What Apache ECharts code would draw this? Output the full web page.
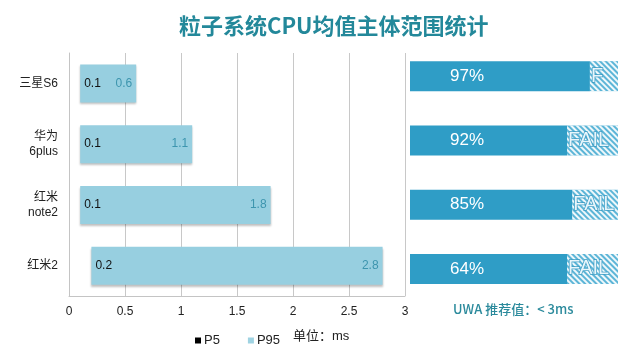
<!DOCTYPE html>
<html lang="zh-cn">
<head>
  <meta charset="utf-8">
  <title>粒子系统CPU均值主体范围统计</title>
  <script src="https://cdn.jsdelivr.net/npm/echarts@6/dist/echarts.min.js"></script>
  <style type="text/css">
    html, body { margin: 0; padding: 0; background: #fff; }
    #main { width: 640px; height: 354px; }
  </style>
</head>
<body>
<div id="main"></div>
<script type="text/javascript">
// 数据
var phones = ['三星S6', '华为\n6plus', '红米\nnote2', '红米2'];
var p5 = [0.1, 0.1, 0.1, 0.2];
var p95 = [0.6, 1.1, 1.8, 2.8];
var xTicks = [0, 0.5, 1, 1.5, 2, 2.5, 3];
// 右侧：通过率文字 + 实色条长度（按图估读，满格 100）
var passLabel = ['97%', '92%', '85%', '64%'];
var solidLen = [86.5, 75.5, 78, 75.5];
var failText = ['F', 'FAIL', 'FAIL', 'FAIL'];

var font = 'Liberation Sans, Arial, Noto Sans CJK SC, sans-serif';
var chart = echarts.init(document.getElementById('main'));

var option = {
    backgroundColor: '#fff',
    animation: false,
    title: {
        text: '粒子系统CPU均值主体范围统计',
        left: 174,
        top: 10,
        textStyle: {
            fontFamily: 'Noto Sans CJK SC',
            fontSize: 22,
            fontWeight: 'bold',
            color: '#23889a'
        }
    },
    legend: {
        left: 190,
        top: 329,
        itemWidth: 6,
        itemHeight: 6,
        itemGap: 28,
        icon: 'rect',
        textStyle: { fontFamily: font, fontSize: 13, color: '#222', padding: [0, 0, 0, -2] },
        data: [
            { name: 'P5', itemStyle: { color: '#000' } },
            { name: 'P95', itemStyle: { color: '#9fd3e2' } }
        ]
    },
    grid: [
        { left: 69, right: 235, top: 53, bottom: 58 },
        { left: 410, right: 22, top: 44, bottom: 53 }
    ],
    xAxis: [
        {
            gridIndex: 0,
            type: 'value',
            min: 0,
            max: xTicks[xTicks.length - 1],
            interval: xTicks[1] - xTicks[0],
            axisLine: { show: true, lineStyle: { color: '#c4c4c4' } },
            axisTick: { show: false },
            axisLabel: { fontFamily: font, fontSize: 12, color: '#222', margin: 10 },
            splitLine: { show: true, lineStyle: { color: '#c8c8c8' } }
        },
        { gridIndex: 1, type: 'value', min: 0, max: 100, show: false }
    ],
    yAxis: [
        {
            gridIndex: 0,
            type: 'category',
            inverse: true,
            data: phones,
            axisLine: { show: true, lineStyle: { color: '#c4c4c4' } },
            axisTick: { show: false },
            axisLabel: { fontFamily: font, fontSize: 12, color: '#222', margin: 11, lineHeight: 15, align: 'right' }
        },
        { gridIndex: 1, type: 'category', inverse: true, data: phones, show: false }
    ],
    series: [
        {
            name: 'P5',
            type: 'bar',
            stack: 'range',
            xAxisIndex: 0,
            yAxisIndex: 0,
            barWidth: 38,
            itemStyle: { color: 'transparent' },
            label: {
                show: true,
                position: 'right',
                distance: 4,
                fontFamily: font,
                fontSize: 12,
                color: '#111'
            },
            data: p5
        },
        {
            name: 'P95',
            type: 'bar',
            stack: 'range',
            xAxisIndex: 0,
            yAxisIndex: 0,
            barWidth: 38,
            itemStyle: {
                color: '#97cfe0',
                shadowColor: 'rgba(0,0,0,0.25)',
                shadowBlur: 2,
                shadowOffsetY: 2
            },
            label: {
                show: true,
                position: 'insideRight',
                distance: 4,
                fontFamily: font,
                fontSize: 12,
                color: '#3d95ae',
                formatter: function (p) { return p95[p.dataIndex]; }
            },
            data: p95.map(function (v, i) { return +(v - p5[i]).toFixed(2); })
        },
        {
            name: 'pass',
            type: 'bar',
            stack: 'rate',
            xAxisIndex: 1,
            yAxisIndex: 1,
            barWidth: 30,
            itemStyle: { color: '#2f9dc6' },
            label: {
                show: true,
                position: [40, '50%'],
                verticalAlign: 'middle',
                fontFamily: font,
                fontSize: 17,
                color: '#fff',
                formatter: function (p) { return passLabel[p.dataIndex]; }
            },
            data: solidLen
        },
        {
            name: 'fail',
            type: 'bar',
            stack: 'rate',
            xAxisIndex: 1,
            yAxisIndex: 1,
            barWidth: 30,
            itemStyle: {
                color: '#5cb5d7',
                decal: {
                    symbol: 'rect',
                    color: 'rgba(255,255,255,0.9)',
                    dashArrayX: [1, 0],
                    dashArrayY: [2, 2],
                    rotation: Math.PI / 4
                }
            },
            label: {
                show: true,
                position: 'insideLeft',
                distance: 1,
                fontFamily: font,
                fontSize: 20,
                color: '#e9f6fb',
                textBorderColor: '#3a9cc4',
                textBorderWidth: 1.5,
                formatter: function (p) { return failText[p.dataIndex]; }
            },
            data: solidLen.map(function (v) { return 100 - v; })
        }
    ],
    graphic: [
        {
            type: 'text',
            left: 293,
            top: 330,
            style: { text: '单位：ms', font: '13px ' + font, fill: '#222' }
        },
        {
            type: 'text',
            left: 453,
            top: 303,
            style: { text: 'UWA 推荐值：< 3ms', font: '500 13px Noto Sans CJK SC', fill: '#2b8a9c' }
        }
    ]
};

chart.setOption(option);
</script>
</body>
</html>
